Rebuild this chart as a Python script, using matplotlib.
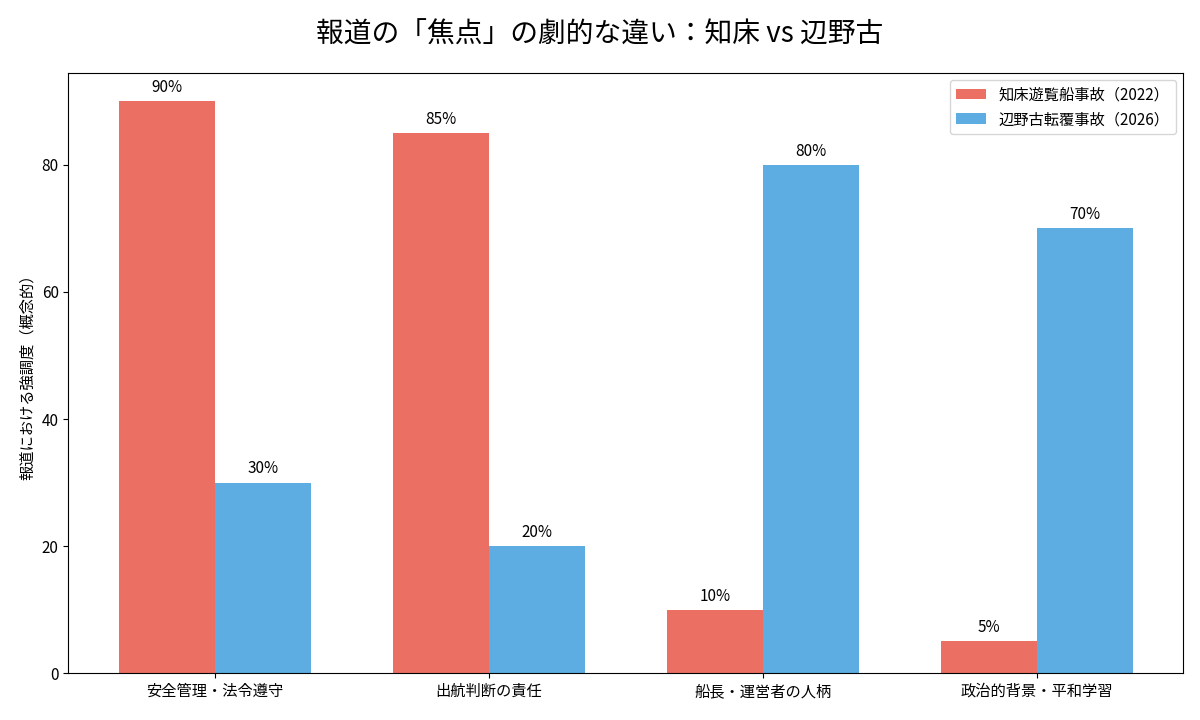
import matplotlib
matplotlib.use("Agg")
import matplotlib.pyplot as plt
import numpy as np

plt.rcParams['font.family'] = ['Noto Sans CJK JP', 'DejaVu Sans']

# 報道の焦点（概念的な強調度 %）
categories = ['安全管理・法令遵守', '出航判断の責任', '船長・運営者の人柄', '政治的背景・平和学習']
shiretoko = [90, 85, 10, 5]
henoko = [30, 20, 80, 70]
series_labels = ['知床遊覧船事故（2022）', '辺野古転覆事故（2026）']

x = np.arange(len(categories))
width = 0.35

fig, ax = plt.subplots(figsize=(12, 7.2), dpi=100)
fig.subplots_adjust(left=0.057, right=0.986, bottom=0.065, top=0.899)

bars1 = ax.bar(x - width / 2, shiretoko, width, label=series_labels[0],
               color='#e74c3c', alpha=0.8)
bars2 = ax.bar(x + width / 2, henoko, width, label=series_labels[1],
               color='#3498db', alpha=0.8)

# 値ラベル
for bars in (bars1, bars2):
    for b in bars:
        h = b.get_height()
        ax.text(b.get_x() + b.get_width() / 2, h + 0.8, f'{h:.0f}%',
                ha='center', va='bottom', fontsize=11)

ax.set_xticks(x)
ax.set_xticklabels(categories, fontsize=11)
ax.tick_params(axis='y', labelsize=11)
ax.set_ylabel('報道における強調度（概念的）', fontsize=11)
fig.suptitle('報道の「焦点」の劇的な違い：知床 vs 辺野古', fontsize=20, y=0.972)
ax.legend(fontsize=11, loc='upper right')

fig.savefig('out.png')
